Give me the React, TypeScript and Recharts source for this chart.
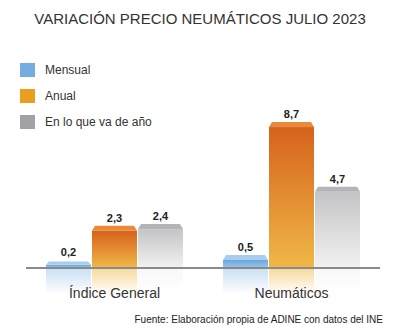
import { BarChart, Bar, XAxis, YAxis, LabelList } from "recharts";

const categories = ["Índice General", "Neumáticos"];
const mensual = [0.2, 0.5];
const anual = [2.3, 8.7];
const enLoQueVa = [2.4, 4.7];

const data = categories.map((name, i) => ({
  name,
  mensual: mensual[i],
  anual: anual[i],
  anio: enLoQueVa[i],
}));

const SERIES = [
  { key: "mensual", label: "Mensual", legend: "#74aee0", top: "#6aa6dc", bottom: "#9cc6ea", cap: "#a9cdee" },
  { key: "anual", label: "Anual", legend: "#e8a01c", top: "#d6621c", bottom: "#f0b848", cap: "#e98a3a" },
  { key: "anio", label: "En lo que va de año", legend: "#a2a2a6", top: "#c4c4c6", bottom: "#f2f2f2", cap: "#b4b4b8" },
];

const fmt = (v: number) => v.toFixed(1).replace(".", ",");

const makeShape = (idx: number) => (props: any) => {
  const { x, y, width, height } = props;
  const s = SERIES[idx];
  const cap = Math.min(5, Math.max(height, 3));
  const base = y + height;
  return (
    <g>
      <rect x={x} y={base} width={width} height={26} fill={`url(#refl-${s.key})`} />
      <rect x={x} y={y} width={width} height={height} fill={`url(#grad-${s.key})`} />
      <polygon
        points={`${x + 3},${y - cap} ${x + width - 3},${y - cap} ${x + width},${y} ${x},${y}`}
        fill={s.cap}
      />
    </g>
  );
};

const LegendBox = () => (
  <div style={{ position: "absolute", left: 20, top: 63, fontFamily: "Liberation Sans, Arial, sans-serif" }}>
    {SERIES.map((s, i) => (
      <div key={s.key} style={{ display: "flex", alignItems: "center", height: 14, marginBottom: i < 2 ? 12 : 0 }}>
        <div style={{ width: 15, height: 14, background: s.legend }} />
        <span style={{ marginLeft: 10, fontSize: 12, color: "#333" }}>{s.label}</span>
      </div>
    ))}
  </div>
);

export default function App() {
  return (
    <div style={{ position: "absolute", left: 0, top: 0, width: 400, height: 333, background: "#fff", fontFamily: "Liberation Sans, Arial, sans-serif" }}>
      <div style={{ position: "absolute", top: 10, width: 400, textAlign: "center", fontSize: 15, color: "#333" }}>
        VARIACIÓN PRECIO NEUMÁTICOS JULIO 2023
      </div>
      <LegendBox />
      <BarChart
        width={400}
        height={333}
        data={data}
        margin={{ top: 106, right: 20, bottom: 35, left: 26 }}
        barSize={45}
        barGap={1}
      >
        <defs>
          {SERIES.map((s) => (
            <linearGradient key={s.key} id={`grad-${s.key}`} x1="0" y1="0" x2="0" y2="1">
              <stop offset="0%" stopColor={s.top} />
              <stop offset="100%" stopColor={s.bottom} />
            </linearGradient>
          ))}
          {SERIES.map((s) => (
            <linearGradient key={s.key + "r"} id={`refl-${s.key}`} x1="0" y1="0" x2="0" y2="1">
              <stop offset="0%" stopColor={s.bottom} stopOpacity={0.55} />
              <stop offset="100%" stopColor={s.bottom} stopOpacity={0} />
            </linearGradient>
          ))}
        </defs>
        <XAxis
          dataKey="name"
          height={30}
          axisLine={{ stroke: "#8a8a8a", strokeWidth: 2 }}
          tickLine={false}
          tick={{ fontSize: 14, fill: "#333", dy: 12 }}
          interval={0}
        />
        <YAxis hide domain={[0, 10]} />
        {SERIES.map((s, i) => (
          <Bar key={s.key} dataKey={s.key} isAnimationActive={false} shape={makeShape(i)}>
            <LabelList
              dataKey={s.key}
              position="top"
              offset={9}
              formatter={(v: any) => fmt(Number(v))}
              style={{ fontSize: 11, fontWeight: "bold", fill: "#222" }}
            />
          </Bar>
        ))}
      </BarChart>
      <div style={{ position: "absolute", top: 314, right: 17, fontSize: 10, color: "#222" }}>
        Fuente: Elaboración propia de ADINE con datos del INE
      </div>
    </div>
  );
}
